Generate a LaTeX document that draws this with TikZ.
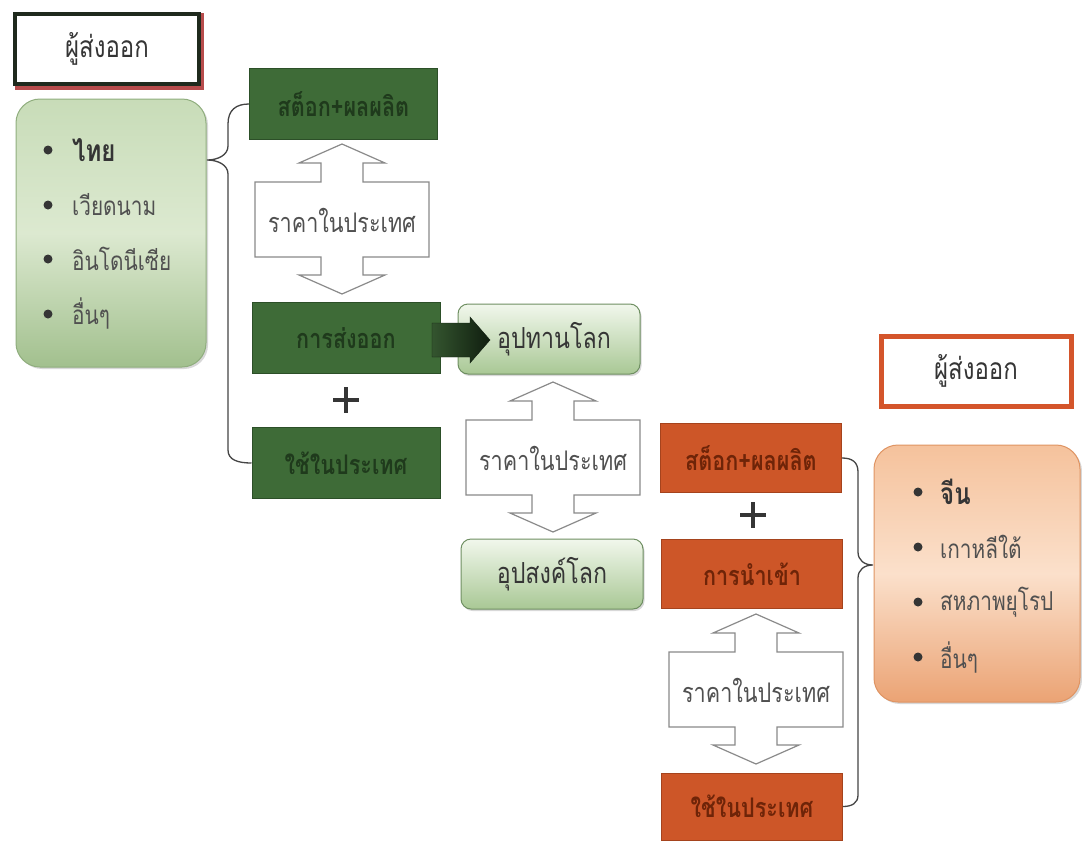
\documentclass[tikz,border=0pt]{standalone}
\usepackage{fontspec}
\newfontfamily\thai[Script=Thai, FakeStretch=0.8]{Loma}
\usetikzlibrary{shadows}
\definecolor{gfill}{HTML}{3E6B37}
\definecolor{gbord}{HTML}{2C4F28}
\definecolor{gtext}{HTML}{1F3A1C}
\definecolor{ofill}{HTML}{CD5628}
\definecolor{obord}{HTML}{A5431D}
\definecolor{otext}{HTML}{6E2408}
\definecolor{txt}{HTML}{505050}
\definecolor{dtxt}{HTML}{353535}
\definecolor{lgA}{HTML}{C8DCB8}
\definecolor{lgB}{HTML}{DCE9D0}
\definecolor{lgC}{HTML}{A2C08E}
\definecolor{lgD}{HTML}{90AE7E}
\definecolor{loA}{HTML}{F5C29C}
\definecolor{loB}{HTML}{FBE0CB}
\definecolor{loC}{HTML}{EBA374}
\definecolor{loD}{HTML}{DF9463}
\definecolor{sgA}{HTML}{F1F7EC}
\definecolor{sgB}{HTML}{A9C895}
\definecolor{sgD}{HTML}{6F8F62}
\definecolor{ared}{HTML}{D4552B}
\definecolor{tdark}{HTML}{1F2A1D}
\definecolor{brc}{HTML}{454545}
\definecolor{udc}{HTML}{8A8A8A}
\definecolor{arA}{HTML}{34552F}
\definecolor{arB}{HTML}{101E0F}
\newcommand\udarr[2]{%
  \draw[udstyle] (#1,#2) -- ({#1+43},{#2+19}) -- ({#1+21},{#2+19}) -- ({#1+21},{#2+38})
   -- ({#1+87},{#2+38}) -- ({#1+87},{#2+113}) -- ({#1+21},{#2+113}) -- ({#1+21},{#2+131})
   -- ({#1+43},{#2+131}) -- (#1,{#2+150}) -- ({#1-43},{#2+131}) -- ({#1-21},{#2+131})
   -- ({#1-21},{#2+113}) -- ({#1-87},{#2+113}) -- ({#1-87},{#2+38}) -- ({#1-21},{#2+38})
   -- ({#1-21},{#2+19}) -- ({#1-43},{#2+19}) -- cycle;}
\begin{document}
\begin{tikzpicture}[x=1pt,y=-1pt,
  gbox/.style={draw=gbord, line width=1pt, fill=gfill, minimum width=188pt, minimum height=71pt, inner sep=0pt, text=gtext, font=\thai\bfseries\fontsize{27}{27}\selectfont},
  obox/.style={draw=obord, line width=1pt, fill=ofill, minimum width=181pt, minimum height=69pt, inner sep=0pt, text=otext, font=\thai\bfseries\fontsize{27}{27}\selectfont},
  titlebox/.style={fill=white, minimum width=184pt, minimum height=70pt, inner sep=0pt, line width=4.5pt, text=dtxt, font=\thai\fontsize{30}{30}\selectfont},
  listg/.style={rounded corners=24pt, draw=lgD, line width=1pt, top color=lgA, bottom color=lgC, middle color=lgB, drop shadow={shadow xshift=2pt, shadow yshift=-2pt, opacity=0.3}},
  listo/.style={rounded corners=24pt, draw=loD, line width=1pt, top color=loA, bottom color=loC, middle color=loB, drop shadow={shadow xshift=2pt, shadow yshift=-2pt, opacity=0.3}},
  worldbox/.style={rounded corners=10pt, draw=sgD, line width=1pt, top color=sgA, bottom color=sgB, minimum width=182pt, minimum height=70pt, inner sep=0pt, text=dtxt, font=\thai\fontsize{29}{29}\selectfont, drop shadow={shadow xshift=1.5pt, shadow yshift=-2pt, opacity=0.3}},
  item/.style={anchor=west, inner sep=0pt, text=txt, font=\thai\fontsize{26}{26}\selectfont},
  bitem/.style={anchor=west, inner sep=0pt, text=dtxt, font=\thai\bfseries\fontsize{30}{30}\selectfont},
  bul/.style={circle, fill=dtxt, minimum size=9pt, inner sep=0pt},
  udstyle/.style={draw=udc, line width=1.2pt, fill=white},
  udtext/.style={inner sep=0pt, text=txt, font=\thai\fontsize{27}{27}\selectfont},
  brace/.style={draw=brc, line width=1.3pt},
  plus/.style={draw=dtxt, line width=4pt}
]
\useasboundingbox (0,0) rectangle (1082,841);
\fill[white] (0,0) rectangle (1082,841);

% ---- left title
\fill[red!60!black, opacity=0.7] (15,13) rectangle (204,90);
\node[titlebox, draw=tdark] (t1) at (107,49) {ผู้ส่งออก};

% ---- left list
\path[listg] (16,99) rectangle (206,367);
\node[bul] (b1) at (48,150) {};
\node[bitem] (i1) at (72,150) {ไทย};
\node[bul] (b2) at (48,205) {};
\node[item] (i2) at (72,205) {เวียดนาม};
\node[bul] (b3) at (48,259) {};
\node[item] (i3) at (72,259) {อินโดนีเซีย};
\node[bul] (b4) at (48,314) {};
\node[item] (i4) at (72,314) {อื่นๆ};

% ---- green column
\node[gbox] (g1) at (343.5,104) {สต็อก+ผลผลิต};
\udarr{342}{144}
\node[udtext] (u1) at (342,220) {ราคาในประเทศ};
\node[gbox] (g2) at (346,338) {การส่งออก};
\draw[plus] (333,400) -- (359,400) (346,387) -- (346,413);
\node[gbox] (g3) at (346,463) {ใช้ในประเทศ};

% left brace
\coordinate (ltip) at (207,160);
\draw[brace] (g1.west) .. controls (236,104) and (228,110) .. (228,124) -- (228,146)
  .. controls (228,155) and (218,160) .. (ltip)
  .. controls (218,160) and (228,165) .. (228,174) -- (228,450)
  .. controls (228,460) and (238,463) .. (g3.west);

% ---- world supply / demand
\node[worldbox] (sup) at (549,339) {\hspace*{10pt}อุปทานโลก};
\draw[left color=arA, right color=arB, draw=arB] (432,323) -- (470,323) -- (470,317) -- (490,340) -- (470,363) -- (470,357) -- (432,357) -- cycle;
\udarr{553}{382}
\node[udtext] (u2) at (553,458) {ราคาในประเทศ};
\node[worldbox] (dem) at (552,574) {อุปสงค์โลก};

% ---- orange column
\node[obox] (o1) at (751,458) {สต็อก+ผลผลิต};
\draw[plus] (740,515) -- (766,515) (753,502) -- (753,528);
\node[obox] (o2) at (752,574) {การนำเข้า};
\udarr{756}{614}
\node[udtext] (u3) at (756,690) {ราคาในประเทศ};
\node[obox, minimum height=67pt] (o3) at (752,806.5) {ใช้ในประเทศ};

% right brace
\coordinate (rtip) at (873,565);
\draw[brace] (o1.east) .. controls (852,458) and (858,462) .. (858,472) -- (858,552)
  .. controls (858,560) and (864,565) .. (rtip)
  .. controls (864,565) and (858,570) .. (858,578) -- (858,795)
  .. controls (858,803) and (852,806.5) .. (o3.east);

% ---- right title
\node[titlebox, draw=ared, line width=5pt, minimum width=190pt] (t2) at (976,371) {ผู้ส่งออก};

% ---- right list
\path[listo] (874,445) rectangle (1080,702);
\node[bul] (c1) at (918,492) {};
\node[bitem] (j1) at (940,492) {จีน};
\node[bul] (c2) at (918,547) {};
\node[item] (j2) at (940,547) {เกาหลีใต้};
\node[bul] (c3) at (918,602) {};
\node[item] (j3) at (940,602) {สหภาพยุโรป};
\node[bul] (c4) at (918,657) {};
\node[item] (j4) at (940,657) {อื่นๆ};
\end{tikzpicture}
\end{document}
